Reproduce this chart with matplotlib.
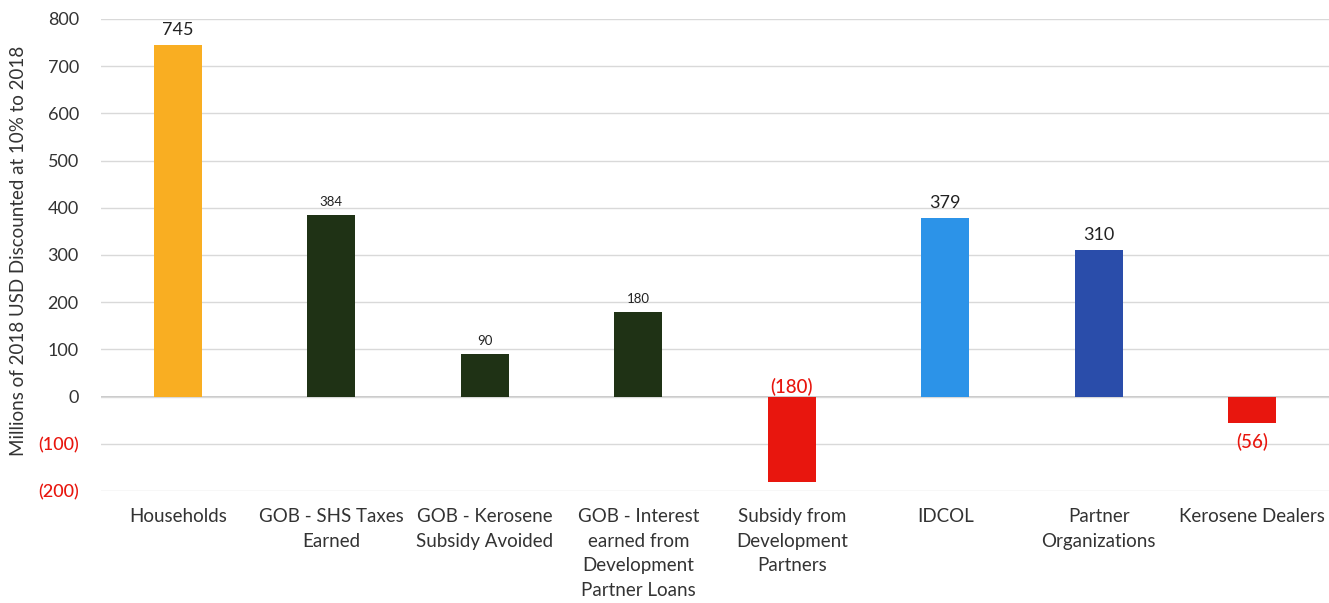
import numpy as np
import matplotlib.pyplot as plt
from matplotlib.ticker import FuncFormatter

plt.rcParams['font.family'] = ['Lato', 'DejaVu Sans']

# Daten
categories = ["Households", "GOB - SHS Taxes\nEarned", "GOB - Kerosene\nSubsidy Avoided",
              "GOB - Interest\nearned from\nDevelopment\nPartner Loans",
              "Subsidy from\nDevelopment\nPartners", "IDCOL", "Partner\nOrganizations",
              "Kerosene Dealers"]
values = [745, 384, 90, 180, -180, 379, 310, -56]
bar_colors = ["#F9AE22", "#1F3215", "#1F3215", "#1F3215", "#E8160E", "#2C93E8", "#2A4DAA", "#E8160E"]
label_sizes = [13, 9.5, 9.5, 9.5, 13.5, 13, 13, 13.5]

fig = plt.figure(figsize=(13.29, 6.03), dpi=100)
ax = fig.add_axes([0.076, 0.1857, 0.924, 0.783])

x = np.arange(len(categories))
ax.bar(x, values, width=0.31, color=bar_colors, zorder=3)

# Beschriftung der Balken
for xi, v, s in zip(x, values, label_sizes):
    if v >= 0:
        ax.annotate(f"{v}", (xi, v), xytext=(0, 5), textcoords="offset points",
                    ha="center", va="bottom", fontsize=s, color="#222222")
    elif v < -100:
        ax.annotate(f"({-v})", (xi, 0), xytext=(0, 0), textcoords="offset points",
                    ha="center", va="bottom", fontsize=s, color="#E8160E", fontweight="medium")
    else:
        ax.annotate(f"({-v})", (xi, v), xytext=(0, -7), textcoords="offset points",
                    ha="center", va="top", fontsize=s, color="#E8160E", fontweight="medium")

ax.set_xlim(-0.5, len(categories) - 0.5)
ax.set_ylim(-200, 800)
ax.set_yticks(range(-200, 801, 100))
ax.yaxis.set_major_formatter(FuncFormatter(lambda v, p: f"({-int(v)})" if v < 0 else f"{int(v)}"))
for lbl, t in zip(ax.get_yticklabels(), range(-200, 801, 100)):
    lbl.set_color("#E8160E" if t < 0 else "#333333")
    if t < 0:
        lbl.set_fontweight("medium")
ax.tick_params(axis="y", labelsize=13, length=0, pad=16)

ax.set_xticks(x)
ax.set_xticklabels(categories, fontsize=13.5, color="#333333", linespacing=1.56)
ax.tick_params(axis="x", length=0, pad=12)

ax.grid(axis="y", color="#D9D9D9", linewidth=1, zorder=0)
ax.axhline(0, color="#BFBFBF", linewidth=1.2, zorder=1)
for sp in ax.spines.values():
    sp.set_visible(False)

ax.set_ylabel("Millions of 2018 USD Discounted at 10% to 2018", fontsize=13.5, color="#333333")
ax.yaxis.set_label_coords(-0.060, 0.508)

plt.savefig("out.png", dpi=100)
